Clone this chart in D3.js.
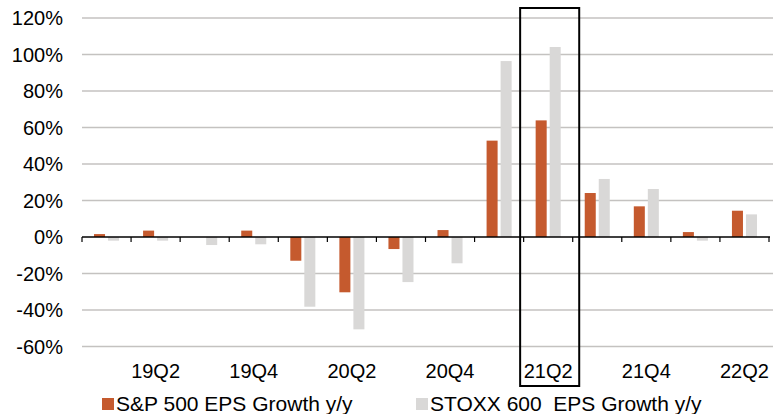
<!DOCTYPE html>
<meta charset="utf-8">
<style>
body { margin: 0; background: #fff; }
svg text { font-family: "Liberation Sans", Arial, sans-serif; font-size: 20px; fill: #000; }
svg .legend text { font-size: 21px; }
</style>
<svg width="773" height="414"></svg>
<script src="https://cdn.jsdelivr.net/npm/d3@7"></script>
<script>

// quarters 19Q1 .. 22Q2, every other one labelled
var quarters = ["19Q1","19Q2","19Q3","19Q4","20Q1","20Q2","20Q3","20Q4",
                "21Q1","21Q2","21Q3","21Q4","22Q1","22Q2"];
var spGrowth    = [1.6, 3.5, 0, 3.5, -13, -30.3, -6.6, 3.8, 52.8, 63.9, 24.1, 16.8, 2.7, 14.4];
var stoxxGrowth = [-2, -2, -4.4, -4, -38.2, -50.6, -24.7, -14.4, 96.4, 104.1, 31.8, 26.3, -2, 12.4];
var yTicks = [-60, -40, -20, 0, 20, 40, 60, 80, 100, 120];
var seriesNames = ["S&P 500 EPS Growth y/y", "STOXX 600  EPS Growth y/y"];
var highlight = "21Q2";

var colors = ["#C55A2E", "#D9D8D7"];

var svg = d3.select("svg"),
    margin = {top: 18, right: 4, bottom: 68, left: 82},
    width = +svg.attr("width") - margin.left - margin.right,
    height = +svg.attr("height") - margin.top - margin.bottom;

var x = d3.scaleBand()
    .domain(quarters)
    .range([margin.left, margin.left + width]);

var xSub = d3.scaleBand()
    .domain([0, 1])
    .range([0, x.bandwidth()])
    .paddingInner(0.214)
    .paddingOuter(0.857);

var y = d3.scaleLinear()
    .domain([-60, 120])
    .range([margin.top + 328.5, margin.top]);

// gridlines
svg.append("g")
  .selectAll("line")
  .data(yTicks.filter(function(d) { return d !== 0; }))
  .enter().append("line")
    .attr("x1", margin.left)
    .attr("x2", 773)
    .attr("y1", function(d) { return y(d); })
    .attr("y2", function(d) { return y(d); })
    .attr("stroke", "#c4c2c0")
    .attr("stroke-width", 1.5);

// y labels
svg.append("g")
  .selectAll("text")
  .data(yTicks)
  .enter().append("text")
    .attr("x", 63)
    .attr("y", function(d) { return y(d); })
    .attr("dy", "0.36em")
    .attr("text-anchor", "end")
    .text(function(d) { return d + "%"; });

// bars
var series = [spGrowth, stoxxGrowth];
series.forEach(function(vals, si) {
  svg.append("g")
    .selectAll("rect")
    .data(vals)
    .enter().append("rect")
      .attr("x", function(d, i) { return x(quarters[i]) + xSub(si); })
      .attr("width", xSub.bandwidth())
      .attr("y", function(d) { return y(Math.max(0, d)); })
      .attr("height", function(d) { return Math.abs(y(d) - y(0)); })
      .attr("fill", colors[si]);
});

// x axis line + ticks at band edges
svg.append("line")
    .attr("x1", margin.left)
    .attr("x2", margin.left + width + 1)
    .attr("y1", y(0))
    .attr("y2", y(0))
    .attr("stroke", "#000")
    .attr("stroke-width", 1.5);

var edges = quarters.map(function(q) { return x(q); }).concat([margin.left + width]);
svg.append("g")
  .selectAll("line")
  .data(edges)
  .enter().append("line")
    .attr("x1", function(d) { return d; })
    .attr("x2", function(d) { return d; })
    .attr("y1", y(0))
    .attr("y2", y(0) + 5)
    .attr("stroke", "#000")
    .attr("stroke-width", 1.2);

// category labels
svg.append("g")
  .selectAll("text")
  .data(quarters.filter(function(q, i) { return i % 2 === 1; }))
  .enter().append("text")
    .attr("x", function(d) { return x(d) + x.bandwidth() / 2; })
    .attr("y", 378)
    .attr("text-anchor", "middle")
    .text(function(d) { return d; });

// highlight box
svg.append("rect")
    .attr("x", x(highlight) - 3.5)
    .attr("y", 8)
    .attr("width", x.bandwidth() + 10)
    .attr("height", 378)
    .attr("fill", "none")
    .attr("stroke", "#000")
    .attr("stroke-width", 2);

// legend
var legendX = [102, 416];
var legend = svg.append("g")
    .attr("class", "legend")
  .selectAll("g")
  .data(seriesNames)
  .enter().append("g")
    .attr("transform", function(d, i) { return "translate(" + legendX[i] + ",0)"; });

legend.append("rect")
    .attr("y", 398)
    .attr("width", 12)
    .attr("height", 12)
    .attr("fill", function(d, i) { return colors[i]; });

legend.append("text")
    .attr("x", 14)
    .attr("y", 411)
    .style("white-space", "pre")
    .text(function(d) { return d; });

</script>
